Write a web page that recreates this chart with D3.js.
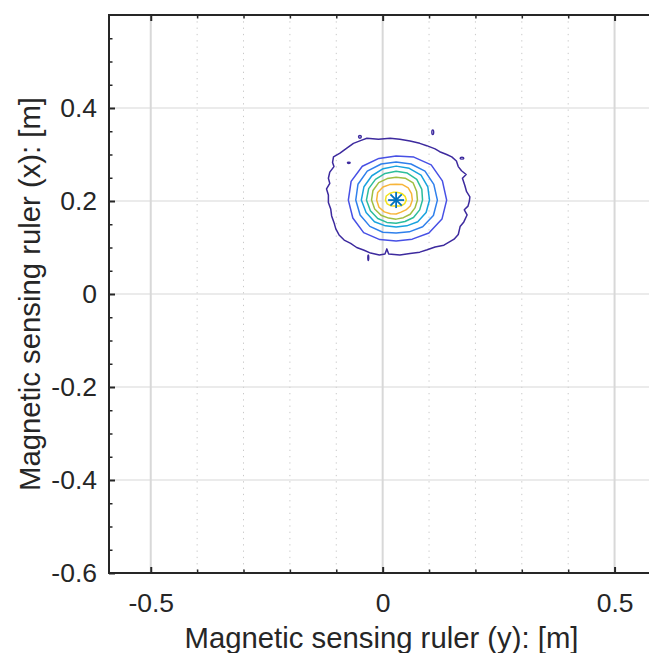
<!DOCTYPE html>
<html>
<head>
<meta charset="utf-8">
<script src="https://cdn.jsdelivr.net/npm/d3@7"></script>
<style>
  body { margin: 0; background: #fff; }
  svg { display: block; font-family: "Liberation Sans", Arial, sans-serif; }
</style>
</head>
<body>
<div id="chart"></div>
<script>
// axis limits and ticks (axis equal, cropped on the right)
var xDomain = [-0.59, 0.585];
var yDomain = [-0.6, 0.6];
var xTicks = [-0.5, 0, 0.5];
var yTicks = [-0.6, -0.4, -0.2, 0, 0.2, 0.4];
var xMinorTicks = [-0.4, -0.3, -0.2, -0.1, 0.1, 0.2, 0.3, 0.4];
var yMinorTicks = [-0.55, -0.5, -0.45, -0.35, -0.3, -0.25, -0.15, -0.1, -0.05,
                   0.05, 0.1, 0.15, 0.25, 0.3, 0.35, 0.45, 0.5, 0.55];

// estimated peak position (asterisk)
var peak = [0.029, 0.202];

// outermost contour, traced point by point (m)
var outerX = [0.187, 0.188, 0.181, 0.177, 0.172, 0.180, 0.170, 0.163, 0.159, 0.149, 0.138, 0.123,
              0.113, 0.095, 0.080, 0.059, 0.037, 0.016, -0.009, -0.034, -0.045, -0.063, -0.078, -0.092,
              -0.106, -0.108, -0.105, -0.114, -0.117, -0.114, -0.121, -0.117, -0.117, -0.112, -0.110, -0.105,
              -0.101, -0.094, -0.083, -0.069, -0.056, -0.040, -0.026, -0.007, 0.005, 0.009, 0.013, 0.037,
              0.059, 0.080, 0.096, 0.113, 0.132, 0.144, 0.154, 0.163, 0.167, 0.175, 0.182, 0.176, 0.184];
var outerY = [0.200, 0.209, 0.220, 0.234, 0.249, 0.257, 0.265, 0.274, 0.286, 0.295, 0.300, 0.306,
              0.312, 0.319, 0.324, 0.329, 0.333, 0.335, 0.333, 0.335, 0.331, 0.324, 0.313, 0.303,
              0.295, 0.283, 0.274, 0.262, 0.249, 0.238, 0.226, 0.213, 0.197, 0.183, 0.168, 0.154,
              0.140, 0.127, 0.116, 0.109, 0.100, 0.094, 0.088, 0.084, 0.086, 0.097, 0.086, 0.084,
              0.087, 0.090, 0.095, 0.101, 0.105, 0.112, 0.118, 0.128, 0.145, 0.155, 0.170, 0.181, 0.189];

// inner contour lines: radius (m) from the peak, counter-clockwise from east, equal angle steps
var level2 = [0.109, 0.108, 0.107, 0.100, 0.095, 0.097, 0.103, 0.105,
              0.103, 0.101, 0.099, 0.092, 0.088, 0.091, 0.100, 0.107];
var level3 = [0.089, 0.088, 0.088, 0.084, 0.082, 0.084, 0.088, 0.089,
              0.087, 0.084, 0.080, 0.075, 0.071, 0.074, 0.081, 0.087];
var level4 = [0.072, 0.074, 0.076, 0.074, 0.073, 0.073, 0.074, 0.075,
              0.075, 0.070, 0.066, 0.060, 0.058, 0.060, 0.066, 0.070];
var level5 = [0.057, 0.060, 0.063, 0.063, 0.062, 0.062, 0.063, 0.064,
              0.064, 0.060, 0.056, 0.052, 0.050, 0.050, 0.053, 0.055];
var level6 = [0.046, 0.048, 0.052, 0.051, 0.049, 0.050, 0.053, 0.054,
              0.053, 0.050, 0.046, 0.042, 0.041, 0.041, 0.043, 0.044];
var level7 = [0.035, 0.036, 0.037, 0.036, 0.034, 0.036, 0.040, 0.043,
              0.042, 0.040, 0.036, 0.032, 0.030, 0.028, 0.030, 0.033];
var level8 = [0.022, 0.021, 0.019, 0.017, 0.017, 0.018, 0.020, 0.023,
              0.023, 0.021, 0.017, 0.014, 0.013, 0.014, 0.017, 0.020];
var innerLevels = [level2, level3, level4, level5, level6, level7, level8];
var levelColors = ["#3d2a9e", "#4750e5", "#2f80ec", "#18a3de", "#2dbd9c", "#a0be42", "#f7b53a", "#f2e31c"];

// little isolated loops of the outer level: centre x, centre y, half-width, half-height (m)
var blobX = [0.108, 0.171, -0.073, -0.049, -0.031];
var blobY = [0.348, 0.292, 0.282, 0.338, 0.078];
var blobRx = [0.002, 0.004, 0.003, 0.003, 0.001];
var blobRy = [0.005, 0.002, 0.0015, 0.003, 0.006];

var W = 649, H = 653;
var svg = d3.select("#chart").append("svg").attr("width", W).attr("height", H);

var x = d3.scaleLinear().domain(xDomain).range([109, 654]);
var y = d3.scaleLinear().domain(yDomain).range([573, 15]);
var pLeft = x.range()[0], pRight = x.range()[1], pTop = y.range()[1], pBottom = y.range()[0];

svg.append("clipPath").attr("id", "clip")
  .append("rect").attr("x", pLeft).attr("y", pTop)
  .attr("width", pRight - pLeft).attr("height", pBottom - pTop);

// grid
var grid = svg.append("g").attr("clip-path", "url(#clip)");
grid.selectAll("line.xminor").data(xMinorTicks).enter().append("line")
  .attr("x1", d => x(d)).attr("x2", d => x(d)).attr("y1", pTop).attr("y2", pBottom)
  .attr("stroke", "#c9c9c9").attr("stroke-width", 1).attr("stroke-dasharray", "1.3,5");
grid.selectAll("line.xmajor").data(xTicks).enter().append("line")
  .attr("x1", d => x(d)).attr("x2", d => x(d)).attr("y1", pTop).attr("y2", pBottom)
  .attr("stroke", "#d8d8d8").attr("stroke-width", 2);
grid.selectAll("line.ymajor").data(yTicks).enter().append("line")
  .attr("x1", pLeft).attr("x2", pRight).attr("y1", d => y(d)).attr("y2", d => y(d))
  .attr("stroke", "#d8d8d8").attr("stroke-width", 1.2);

// contours
var plot = svg.append("g").attr("clip-path", "url(#clip)");
var ring = d3.line()
  .x((r, i, arr) => x(peak[0] + r * Math.cos(2 * Math.PI * i / arr.length)))
  .y((r, i, arr) => y(peak[1] + r * Math.sin(2 * Math.PI * i / arr.length)))
  .curve(d3.curveLinearClosed);
var traced = d3.line()
  .x(i => x(outerX[i]))
  .y(i => y(outerY[i]))
  .curve(d3.curveLinearClosed);

plot.append("path")
  .attr("d", traced(d3.range(outerX.length)))
  .attr("fill", "none")
  .attr("stroke", levelColors[0])
  .attr("stroke-width", 1.5)
  .attr("stroke-linejoin", "round");

plot.selectAll("path.level").data(innerLevels).enter().append("path")
  .attr("class", "level")
  .attr("d", d => ring(d))
  .attr("fill", "none")
  .attr("stroke", (d, i) => levelColors[i + 1])
  .attr("stroke-width", 1.5)
  .attr("stroke-linejoin", "round");

plot.selectAll("ellipse.blob").data(blobX).enter().append("ellipse")
  .attr("cx", d => x(d))
  .attr("cy", (d, i) => y(blobY[i]))
  .attr("rx", (d, i) => x(blobRx[i]) - x(0))
  .attr("ry", (d, i) => y(0) - y(blobRy[i]))
  .attr("fill", "none").attr("stroke", levelColors[0]).attr("stroke-width", 1.4);

// asterisk at the peak
var star = plot.append("g").attr("transform", "translate(" + x(peak[0]) + "," + y(peak[1]) + ")");
[0, 45, 90, 135].forEach(function(a) {
  star.append("line").attr("x1", -8).attr("x2", 8).attr("y1", 0).attr("y2", 0)
    .attr("transform", "rotate(" + a + ")")
    .attr("stroke", "#0072bd").attr("stroke-width", 1.8);
});

// axes
var axisColor = "#262626";
function styleAxis(g, w) {
  g.select(".domain").remove();
  g.selectAll(".tick line").attr("stroke", axisColor).attr("stroke-width", w);
  g.selectAll(".tick text").attr("fill", axisColor).attr("font-size", 26.5)
    .attr("font-family", "'Liberation Sans', Arial, sans-serif");
}
var fmt = d => String(d);

svg.append("g").attr("transform", "translate(0," + pBottom + ")")
  .call(d3.axisBottom(x).tickValues(xTicks).tickFormat(fmt).tickSizeInner(-6).tickSizeOuter(0).tickPadding(20))
  .call(g => styleAxis(g, 2));
svg.append("g").attr("transform", "translate(0," + pBottom + ")")
  .call(d3.axisBottom(x).tickValues(xMinorTicks).tickFormat("").tickSizeInner(-3.5).tickSizeOuter(0))
  .call(g => styleAxis(g, 1.5));
svg.append("g").attr("transform", "translate(0," + pTop + ")")
  .call(d3.axisTop(x).tickValues(xTicks).tickFormat("").tickSizeInner(-6).tickSizeOuter(0))
  .call(g => styleAxis(g, 2));
svg.append("g").attr("transform", "translate(0," + pTop + ")")
  .call(d3.axisTop(x).tickValues(xMinorTicks).tickFormat("").tickSizeInner(-3.5).tickSizeOuter(0))
  .call(g => styleAxis(g, 1.5));
svg.append("g").attr("transform", "translate(" + pLeft + ",0)")
  .call(d3.axisLeft(y).tickValues(yTicks).tickFormat(fmt).tickSizeInner(-6).tickSizeOuter(0).tickPadding(12))
  .call(g => styleAxis(g, 2));
svg.append("g").attr("transform", "translate(" + pLeft + ",0)")
  .call(d3.axisLeft(y).tickValues(yMinorTicks).tickFormat("").tickSizeInner(-3.5).tickSizeOuter(0))
  .call(g => styleAxis(g, 1.5));

// box
svg.append("rect").attr("x", pLeft).attr("y", pTop)
  .attr("width", pRight - pLeft).attr("height", pBottom - pTop)
  .attr("fill", "none").attr("stroke", axisColor).attr("stroke-width", 2);

// labels
svg.append("text")
  .attr("x", (pLeft + pRight) / 2).attr("y", 648)
  .attr("text-anchor", "middle").attr("font-size", 29.3).attr("fill", axisColor)
  .text("Magnetic sensing ruler (y): [m]");
svg.append("text")
  .attr("transform", "translate(40," + (pTop + pBottom) / 2 + ") rotate(-90)")
  .attr("text-anchor", "middle").attr("font-size", 29.3).attr("fill", axisColor)
  .text("Magnetic sensing ruler (x): [m]");
</script>
</body>
</html>
